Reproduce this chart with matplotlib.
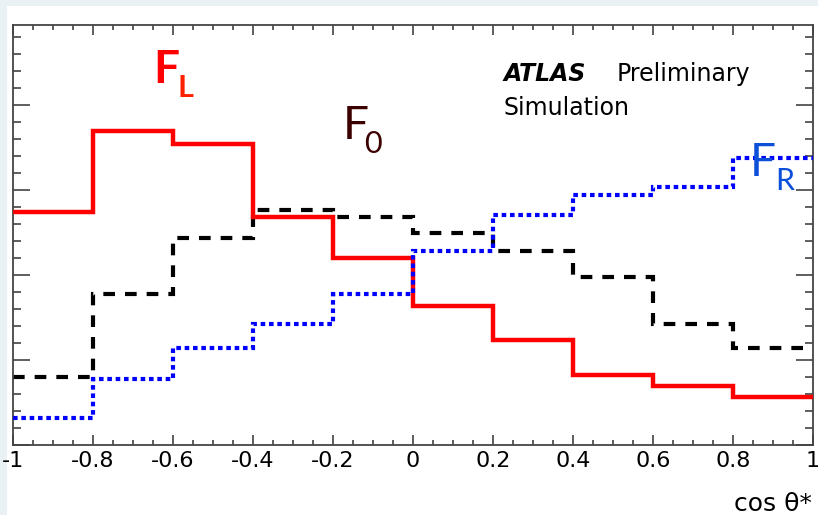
import numpy as np
import matplotlib.pyplot as plt
from matplotlib.patches import Rectangle
from matplotlib.ticker import MultipleLocator

# cos(theta*) bin edges and normalised fractions per bin
edges = [-1.0, -0.8, -0.6, -0.4, -0.2, 0.0, 0.2, 0.4, 0.6, 0.8, 1.0]
f_left = [0.137, 0.185, 0.177, 0.134, 0.110, 0.082, 0.062, 0.041, 0.035, 0.028]
f_zero = [0.040, 0.089, 0.122, 0.138, 0.134, 0.125, 0.114, 0.099, 0.071, 0.057]
f_right = [0.016, 0.039, 0.057, 0.071, 0.089, 0.114, 0.135, 0.147, 0.152, 0.169]

xtick_vals = [-1, -0.8, -0.6, -0.4, -0.2, 0, 0.2, 0.4, 0.6, 0.8, 1]
xtick_labels = ['-1', '-0.8', '-0.6', '-0.4', '-0.2', '0', '0.2', '0.4', '0.6', '0.8', '1']

W, H = 818, 515
fig = plt.figure(figsize=(W / 100, H / 100), dpi=100)
fig.patch.set_facecolor('#e9f1f4')
fig.patches.append(Rectangle((7 / W, 0), 1, 1 - 6 / H, transform=fig.transFigure,
                             facecolor='white', edgecolor='none', zorder=-10))

def fx(px):
    return px / W

def fy(py):
    return 1 - py / H

ax = fig.add_axes([fx(13), fy(445), 800 / W, 420 / H])
ax.set_facecolor('white')

ax.stairs(f_left, edges, color='#ff0000', linewidth=3.2, baseline=None, zorder=3)
ax.stairs(f_zero, edges, color='black', linewidth=3.0, linestyle=(0, (2.8, 2.4)),
          baseline=None, zorder=2)
ax.stairs(f_right, edges, color='#0000ff', linewidth=3.0, linestyle=(0, (1.1, 0.9)),
          baseline=None, zorder=4)

ax.set_xlim(-1, 1)
ax.set_ylim(0, 420 / 85 * 0.05)

ax.set_xticks(xtick_vals)
ax.set_xticklabels(xtick_labels, fontsize=16, family='DejaVu Sans')
ax.xaxis.set_minor_locator(MultipleLocator(0.05))
ax.yaxis.set_major_locator(MultipleLocator(0.05))
ax.yaxis.set_minor_locator(MultipleLocator(0.01))
ax.set_yticklabels([])

ax.tick_params(which='both', direction='in', top=True, right=True, color='#333333', width=1.1)
ax.tick_params(axis='x', which='major', length=7, pad=4)
ax.tick_params(axis='x', which='minor', length=3.5)
ax.tick_params(axis='y', which='major', length=12)
ax.tick_params(axis='y', which='minor', length=6)
for sp in ax.spines.values():
    sp.set_color('#444444')
    sp.set_linewidth(1.3)

# curve labels
fig.text(fx(153), fy(83), 'F', color='#ff0000', fontsize=33, fontweight='bold',
         family='Lato', va='baseline')
fig.text(fx(177), fy(97), 'L', color='#ff2000', fontsize=22, fontweight='bold',
         family='Lato', va='baseline')
fig.text(fx(343), fy(139), 'F', color='#3c0000', fontsize=33, family='Lato', va='baseline')
fig.text(fx(364), fy(153), '0', color='#3c0000', fontsize=22, family='Lato', va='baseline')
fig.text(fx(750), fy(176), 'F', color='#0c4fd8', fontsize=33, family='Lato', va='baseline')
fig.text(fx(775), fy(190), 'R', color='#0c4fd8', fontsize=22, family='Lato', va='baseline')

fig.text(fx(504), fy(81), 'ATLAS', fontsize=17, fontweight='bold', style='italic',
         family='DejaVu Sans', va='baseline')
fig.text(fx(617), fy(81), 'Preliminary', fontsize=17, family='DejaVu Sans', va='baseline')
fig.text(fx(504), fy(115), 'Simulation', fontsize=17, family='DejaVu Sans', va='baseline')

fig.text(fx(812), fy(511), 'cos θ*', fontsize=18, family='DejaVu Sans',
         ha='right', va='baseline')

fig.savefig('out.png', dpi=100)
